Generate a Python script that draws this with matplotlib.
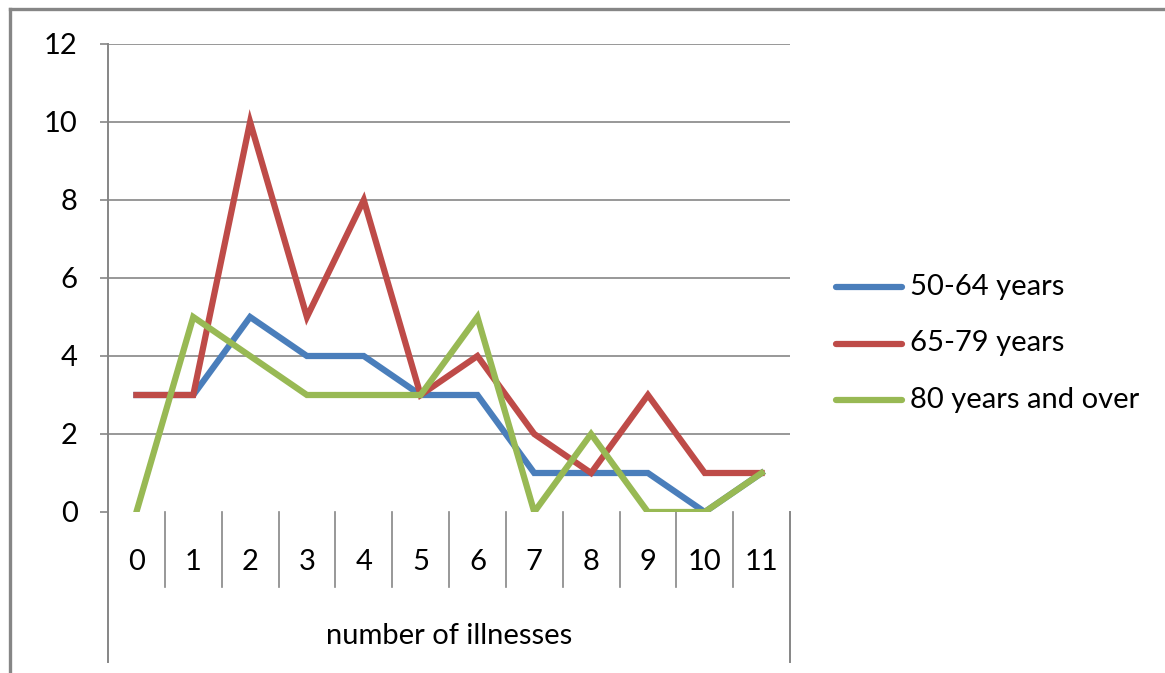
import matplotlib
matplotlib.use("Agg")
import matplotlib.pyplot as plt
from matplotlib.lines import Line2D
import numpy as np

plt.rcParams['font.family'] = ['Lato', 'DejaVu Sans']

# illness counts per age group
categories = ['0', '1', '2', '3', '4', '5', '6', '7', '8', '9', '10', '11']
age_50_64 = [3, 3, 5, 4, 4, 3, 3, 1, 1, 1, 0, 1]
age_65_79 = [3, 3, 10, 5, 8, 3, 4, 2, 1, 3, 1, 1]
age_80_up = [0, 5, 4, 3, 3, 3, 5, 0, 2, 0, 0, 1]
series_names = ['50-64 years', '65-79 years', '80 years and over']
y_ticks = [0, 2, 4, 6, 8, 10, 12]

colors = ['#4A7EBB', '#BE4B48', '#98B954']
grid_c = '#868686'
fs = 21
W, H = 1165, 673
fig = plt.figure(figsize=(W / 100, H / 100), dpi=100)

# outer chart frame (top and left edges)
fig.add_artist(Line2D([10 / W, 1], [1 - 9 / H, 1 - 9 / H], color=grid_c, lw=2.4))
fig.add_artist(Line2D([10 / W, 10 / W], [0, 1 - 9 / H], color=grid_c, lw=2.4))

left, right, top, bottom = 108, 790, 44, 512
ax = fig.add_axes([left / W, 1 - bottom / H, (right - left) / W, (bottom - top) / H])
x = np.arange(len(categories))
ax.set_xlim(-0.5, len(categories) - 0.5)
ax.set_ylim(0, 12)

for yv in y_ticks[1:]:
    ax.axhline(yv, color=grid_c, lw=1.2, zorder=1)

for vals, c in zip([age_50_64, age_65_79, age_80_up], colors):
    ax.plot(x, vals, color=c, lw=4.5, solid_joinstyle='miter', zorder=3)

for s in ['top', 'right', 'bottom', 'left']:
    ax.spines[s].set_visible(False)

# value axis line, carried down through the category band
plot_h = bottom - top
ax.plot([-0.5, -0.5], [12, -150 / plot_h * 12], color=grid_c, lw=1.4, clip_on=False, zorder=2)
ax.plot([11.5, 11.5], [0, -150 / plot_h * 12], color=grid_c, lw=1.4, clip_on=False, zorder=2)
for xs in np.arange(0.5, len(categories) - 1, 1.0):
    ax.plot([xs, xs], [0, -75 / plot_h * 12], color=grid_c, lw=1.2, clip_on=False, zorder=2)

ax.set_yticks(y_ticks)
ax.set_yticklabels([str(v) for v in y_ticks])
ax.tick_params(axis='y', length=5.8, width=1.2, color=grid_c, pad=16, labelsize=fs)
ax.set_xticks([])

for xi, lab in zip(x, categories):
    ax.text(xi, -50 / plot_h * 12, lab, ha='center', va='center', fontsize=fs, clip_on=False)
ax.text(5.5, -124 / plot_h * 12, 'number of illnesses', ha='center', va='center',
        fontsize=fs, clip_on=False)

# legend
for i, (name, c) in enumerate(zip(series_names, colors)):
    yy = 1 - (287 + 56.5 * i) / H
    fig.add_artist(Line2D([836 / W, 902 / W], [yy, yy], color=c, lw=4.5,
                          solid_capstyle='round'))
    fig.text(910 / W, yy, name, ha='left', va='center', fontsize=fs)

fig.savefig('out.png', dpi=100)
